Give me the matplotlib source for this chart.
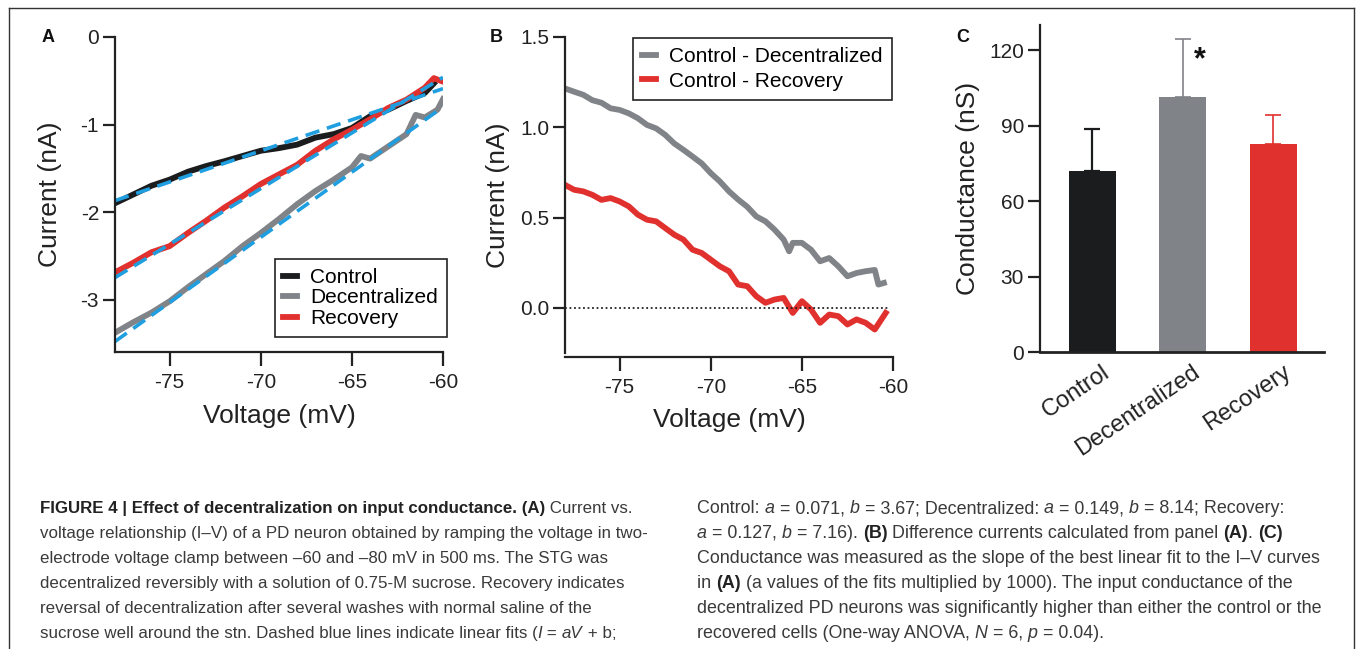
import numpy as np
import matplotlib.pyplot as plt
import matplotlib.transforms as mtransforms
from matplotlib.lines import Line2D

plt.rcParams['font.family'] = ['Liberation Sans', 'DejaVu Sans']

# ---- data: panel A (I-V traces) ----
v_a = [-78, -77, -76, -75, -74, -73, -72, -71, -70, -69, -68, -67, -66, -65, -64, -63, -62, -61, -60.5]
i_control = [-1.90, -1.80, -1.70, -1.63, -1.54, -1.475, -1.42, -1.36, -1.30, -1.27, -1.23, -1.15,
             -1.11, -1.04, -0.905, -0.83, -0.73, -0.64, -0.53]
v_dec = [-78, -77, -76, -75, -74, -73, -72, -71, -70, -69, -68, -67, -66, -65, -64.5, -64, -63,
         -62, -61.5, -61, -60.3, -60]
i_dec = [-3.38, -3.26, -3.15, -3.02, -2.86, -2.71, -2.56, -2.39, -2.24, -2.08, -1.91, -1.76, -1.63,
         -1.49, -1.36, -1.39, -1.25, -1.11, -0.89, -0.92, -0.83, -0.71]
v_rec = [-78, -77, -76, -75, -74, -73, -72, -71, -70, -69, -68, -67, -66, -65, -64, -63, -62, -61,
         -60.5, -60]
i_rec = [-2.69, -2.58, -2.46, -2.39, -2.24, -2.10, -1.95, -1.82, -1.68, -1.57, -1.46, -1.30, -1.17,
         -1.06, -0.94, -0.81, -0.715, -0.58, -0.47, -0.51]

# linear fits (end points)
fit_v = [-78, -60]
fit_control = [-1.87, -0.59]
fit_dec = [-3.48, -0.80]
fit_rec = [-2.75, -0.46]

# ---- data: panel B (difference currents) ----
v_b = [-78, -77.5, -77, -76.5, -76, -75.5, -75, -74.5, -74, -73.5, -73, -72.5, -72, -71.5, -71,
       -70.5, -70, -69.5, -69, -68.5, -68, -67.5, -67, -66.5, -66, -65.7, -65.5, -65, -64.5, -64,
       -63.5, -63, -62.5, -62, -61.5, -61, -60.8, -60.5]
diff_dec = [1.215, 1.197, 1.18, 1.15, 1.136, 1.105, 1.096, 1.077, 1.05, 1.013, 0.994, 0.958, 0.91,
            0.875, 0.838, 0.80, 0.746, 0.70, 0.645, 0.60, 0.56, 0.506, 0.479, 0.433, 0.378, 0.313,
            0.36, 0.36, 0.322, 0.258, 0.276, 0.23, 0.175, 0.193, 0.203, 0.21, 0.129, 0.138]
v_b2 = [-78, -77.5, -77, -76.5, -76, -75.5, -75, -74.5, -74, -73.5, -73, -72.5, -72, -71.5, -71,
        -70.5, -70, -69.5, -69, -68.5, -68, -67.5, -67, -66.5, -66, -65.5, -65, -64.5, -64, -63.5,
        -63, -62.5, -62, -61.5, -61, -60.7, -60.4]
diff_rec = [0.681, 0.654, 0.645, 0.626, 0.598, 0.608, 0.589, 0.562, 0.516, 0.488, 0.479, 0.442,
            0.405, 0.378, 0.322, 0.304, 0.267, 0.23, 0.203, 0.129, 0.12, 0.064, 0.028, 0.046, 0.055,
            -0.028, 0.037, -0.009, -0.083, -0.037, -0.046, -0.092, -0.064, -0.083, -0.12, -0.074,
            -0.028]

# ---- data: panel C (conductance) ----
groups = ['Control', 'Decentralized', 'Recovery']
conductance = [72, 101.2, 82.7]
cond_err = [16.8, 23.1, 11.5]

black = '#1a1c1e'
gray = '#808387'
red = '#e0312e'
blue = '#1f9ee0'
ink = '#222222'

fig = plt.figure(figsize=(13.57, 6.49), dpi=100)
W, H = 1357, 649


def fx(px):
    return px / W


def fy(py):
    return 1 - py / H


def style_axes(ax):
    for s in ['top', 'right']:
        ax.spines[s].set_visible(False)
    for s in ['left', 'bottom']:
        ax.spines[s].set_linewidth(1.6)
        ax.spines[s].set_color(ink)
    ax.tick_params(direction='out', width=1.6, labelsize=15, colors=ink, labelcolor=ink)
    ax.tick_params(axis='x', length=10, pad=5)
    ax.tick_params(axis='y', length=8.5, pad=3)


# ---- panel A ----
axA = fig.add_axes([fx(115), fy(352), fx(328), 315 / H])
axA.plot(v_a, i_control, color=black, lw=4.2, label='Control')
axA.plot(v_dec, i_dec, color=gray, lw=4.2, label='Decentralized')
axA.plot(v_rec, i_rec, color=red, lw=4.2, label='Recovery')
for f in [fit_control, fit_dec, fit_rec]:
    axA.plot(fit_v, f, color=blue, lw=2.6, dashes=(4, 2.2))
axA.set_xlim(-78, -60)
axA.set_ylim(-3.6, 0)
axA.set_xticks([-75, -70, -65, -60])
axA.set_yticks([0, -1, -2, -3])
axA.set_yticklabels(['0', '-1', '-2', '-3'])
axA.set_xticklabels(['-75', '-70', '-65', '-60'])
style_axes(axA)
axA.set_xlabel('Voltage (mV)', fontsize=19, color=ink)
axA.set_ylabel('Current (nA)', fontsize=19, color=ink)
axA.yaxis.set_label_coords(-0.162, 0.5)
axA.xaxis.set_label_coords(0.5, -0.165)
legA = axA.legend(loc='lower right', bbox_to_anchor=(1.012, 0.048), borderaxespad=0,
                  fancybox=False, edgecolor=ink, fontsize=15, handlelength=0.65,
                  handletextpad=0.65, labelspacing=0.08, borderpad=0.42, framealpha=1)
legA.get_frame().set_linewidth(1.2)
fig.text(fx(48), fy(38), 'A', fontsize=13, fontweight='bold', ha='center', va='center',
         color='#111111')

# ---- panel B ----
axB = fig.add_axes([fx(565), fy(353), fx(328), 316 / H])
axB.plot(v_b, diff_dec, color=gray, lw=4.2, label='Control - Decentralized')
axB.plot(v_b2, diff_rec, color=red, lw=4.2, label='Control - Recovery')
axB.plot([-78, -60.3], [0, 0], color=ink, lw=1.3, ls=(0, (1, 1.5)))
axB.set_xlim(-78, -60)
axB.set_ylim(-0.25, 1.5)
axB.set_xticks([-75, -70, -65, -60])
axB.set_xticklabels(['-75', '-70', '-65', '-60'])
axB.set_yticks([0, 0.5, 1.0, 1.5])
axB.set_yticklabels(['0.0', '0.5', '1.0', '1.5'])
style_axes(axB)
axB.spines['bottom'].set_position(('outward', 3))
axB.set_xlabel('Voltage (mV)', fontsize=19, color=ink)
axB.set_ylabel('Current (nA)', fontsize=19, color=ink)
axB.yaxis.set_label_coords(-0.168, 0.5)
axB.xaxis.set_label_coords(0.5, -0.175)
legB = axB.legend(loc='upper right', bbox_to_anchor=(0.997, 0.997), borderaxespad=0,
                  fancybox=False, edgecolor=ink, fontsize=15, handlelength=0.65,
                  handletextpad=0.65, labelspacing=0.25, borderpad=0.45, framealpha=1)
legB.get_frame().set_linewidth(1.2)
fig.text(fx(496), fy(38), 'B', fontsize=13, fontweight='bold', ha='center', va='center',
         color='#111111')

# ---- panel C ----
axC = fig.add_axes([fx(1040), fy(352), fx(284), 327 / H])
xpos = np.arange(len(groups))
bar_colors = [black, gray, red]
axC.bar(xpos, conductance, width=0.52, color=bar_colors, zorder=2)
for x, m, e, c in zip(xpos, conductance, cond_err, bar_colors):
    axC.errorbar(x, m, yerr=[[0], [e]], color=c, lw=1.6 if c == black else 1.2, capsize=6,
                 capthick=1.6 if c == black else 1.2, zorder=1)
axC.text(1.19, 116, '*', fontsize=22, fontweight='bold', ha='center', va='center',
         color='#111111')
axC.set_xlim(-0.575, 2.56)
axC.set_ylim(0, 130)
axC.set_yticks([0, 30, 60, 90, 120])
style_axes(axC)
axC.spines['bottom'].set_linewidth(2)
axC.tick_params(axis='x', length=0, pad=6)
axC.set_xticks(xpos)
axC.set_xticklabels(groups, rotation=34, ha='right', rotation_mode='anchor', fontsize=17)
shift = mtransforms.ScaledTranslation(9 / 100, -1 / 100, fig.dpi_scale_trans)
for lab in axC.get_xticklabels():
    lab.set_transform(lab.get_transform() + shift)
axC.set_ylabel('Conductance (nS)', fontsize=19, color=ink)
axC.yaxis.set_label_coords(-0.211, 0.5)
fig.text(fx(963), fy(38), 'C', fontsize=13, fontweight='bold', ha='center', va='center',
         color='#111111')

# ---- frame ----
frame_kw = dict(color='#333333', lw=1.0, transform=fig.transFigure)
fig.add_artist(Line2D([fx(9), fx(9)], [0, fy(8)], **frame_kw))
fig.add_artist(Line2D([fx(9), fx(1354)], [fy(8), fy(8)], **frame_kw))
fig.add_artist(Line2D([fx(1354), fx(1354)], [0, fy(8)], **frame_kw))

# ---- caption ----
cap_family = 'Liberation Sans'
renderer = fig.canvas.get_renderer()


def run_width(text, weight, style, size):
    t = fig.text(0, 0, text + 'x', fontsize=size, family=cap_family, fontweight=weight,
                 fontstyle=style)
    t2 = fig.text(0, 0, 'x', fontsize=size, family=cap_family, fontweight=weight,
                  fontstyle=style)
    w = t.get_window_extent(renderer).width - t2.get_window_extent(renderer).width
    t.remove()
    t2.remove()
    return w


def rich_line(x_px, y_px, runs, size):
    x = x_px
    for text, fmt in runs:
        weight = 'bold' if 'b' in fmt else 'normal'
        style = 'italic' if 'i' in fmt else 'normal'
        color = ink if 'b' in fmt else '#3a3a3a'
        fig.text(fx(x), fy(y_px), text, fontsize=size, family=cap_family, fontweight=weight,
                 fontstyle=style, color=color, va='baseline', ha='left')
        x += run_width(text, weight, style, size)


left_lines = [
    [('FIGURE 4 | Effect of decentralization on input conductance. (A)', 'b'), (' Current vs.', '')],
    [('voltage relationship (I\u2013V) of a PD neuron obtained by ramping the voltage in two-', '')],
    [('electrode voltage clamp between \u201360 and \u201380 mV in 500 ms. The STG was', '')],
    [('decentralized reversibly with a solution of 0.75-M sucrose. Recovery indicates', '')],
    [('reversal of decentralization after several washes with normal saline of the', '')],
    [('sucrose well around the stn. Dashed blue lines indicate linear fits (', ''), ('I', 'i'),
     (' = ', ''), ('aV', 'i'), (' + b;', '')],
]
right_lines = [
    [('Control: ', ''), ('a', 'i'), (' = 0.071, ', ''), ('b', 'i'), (' = 3.67; Decentralized: ', ''),
     ('a', 'i'), (' = 0.149, ', ''), ('b', 'i'), (' = 8.14; Recovery:', '')],
    [('a', 'i'), (' = 0.127, ', ''), ('b', 'i'), (' = 7.16). ', ''), ('(B)', 'b'),
     (' Difference currents calculated from panel ', ''), ('(A)', 'b'), ('. ', ''), ('(C)', 'b')],
    [('Conductance was measured as the slope of the best linear fit to the I\u2013V curves', '')],
    [('in ', ''), ('(A)', 'b'), (' (a values of the fits multiplied by 1000). The input conductance of the', '')],
    [('decentralized PD neurons was significantly higher than either the control or the', '')],
    [('recovered cells (One-way ANOVA, ', ''), ('N', 'i'), (' = 6, ', ''), ('p', 'i'), (' = 0.04).', '')],
]
base_y = 513
for k, runs in enumerate(left_lines):
    rich_line(40, base_y + 25 * k, runs, 12.15)
for k, runs in enumerate(right_lines):
    rich_line(697, base_y + 25 * k, runs, 12.9)

fig.savefig('out.png', dpi=100)
